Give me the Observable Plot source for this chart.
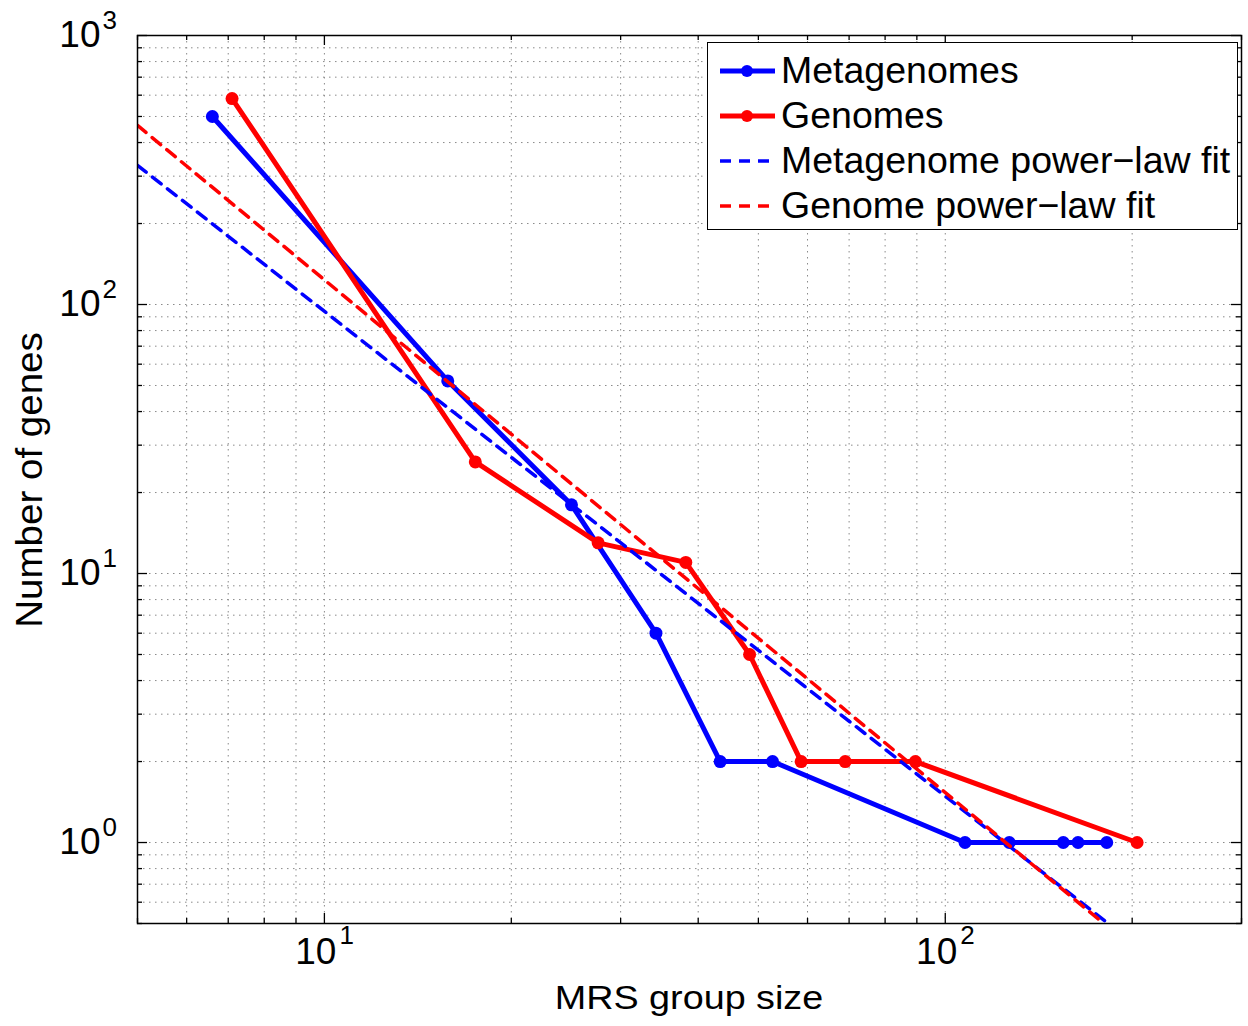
<!DOCTYPE html>
<html><head><meta charset="utf-8">
<script src="https://cdn.jsdelivr.net/npm/d3@7"></script>
<script src="https://cdn.jsdelivr.net/npm/@observablehq/plot@0.6"></script>
<style>
body{margin:0;background:#fff;}
#wrap{position:relative;width:1248px;height:1026px;font-family:"Liberation Sans",Arial,sans-serif;}
#legend{position:absolute;left:707px;top:42px;width:531px;height:188px;border:1.3px solid #000;background:#fff;box-sizing:border-box;}
.row{position:absolute;left:0;height:45px;display:flex;align-items:center;font-size:37.5px;color:#000;white-space:nowrap;}
.row svg{margin-left:10px;margin-right:6px;}
#xtitle{position:absolute;left:137px;width:1104px;top:978px;text-align:center;font-size:34px;transform:scaleX(1.11);transform-origin:50% 0;}
#ytitle{position:absolute;left:30px;top:480px;font-size:36px;transform:translate(-50%,-50%) rotate(-90deg) scaleX(1.07);white-space:nowrap;}
</style></head><body><div id="wrap"></div>
<script>
// ---- data ----
const metaX = [6.6, 15.8, 25, 34.2, 43.4, 52.7, 107.6, 126.8, 154.9, 163.6, 182];
const metaY = [500, 52, 18, 6, 2, 2, 1, 1, 1, 1, 1];
const genX = [7.1, 17.5, 27.6, 38.2, 48.4, 58.6, 69, 89.5, 203.7];
const genY = [583, 26, 13, 11, 5, 2, 2, 2, 1];
const metaFitX = [5, 183];
const metaFitY = [329, 0.5];
const genFitX = [5, 180];
const genFitY = [463, 0.5];
const seriesNames = ["Metagenomes", "Genomes", "Metagenome power\u2212law fit", "Genome power\u2212law fit"];
const xMajor = [10, 100];
const xExp = ["1", "2"];
const yMajor = [1, 10, 100, 1000];
const yExp = ["0", "1", "2", "3"];
const xMinor = [5,6,7,8,9,20,30,40,50,60,70,80,90,200,300];
const yMinor = [0.5,0.6,0.7,0.8,0.9,2,3,4,5,6,7,8,9,20,30,40,50,60,70,80,90,200,300,400,500,600,700,800,900];
const xTitle = "MRS group size";
const yTitle = "Number of genes";

const BLUE = "#0000ff", RED = "#ff0000";
const W = 1248, H = 1026, mL = 137, mR = 7, mT = 35, mB = 103;
const ph = H - mT - mB, pw = W - mL - mR;

const meta = metaX.map((x, i) => ({x, y: metaY[i]}));
const gen = genX.map((x, i) => ({x, y: genY[i]}));
const mfit = metaFitX.map((x, i) => ({x, y: metaFitY[i]}));
const gfit = genFitX.map((x, i) => ({x, y: genFitY[i]}));
const xAll = [...xMinor, ...xMajor];
const yAll = [...yMinor, ...yMajor];
const gridStyle = {stroke: "#8a8a8a", strokeDasharray: "1.5,4.5", strokeWidth: 1};
const font = "Liberation Sans, Arial, Helvetica, sans-serif";
const tk = {stroke: "#000", strokeWidth: 1.3};

const plot = Plot.plot({
  width: W, height: H, marginLeft: mL, marginRight: mR, marginTop: mT, marginBottom: mB,
  style: {fontFamily: font, background: "#fff", overflow: "visible"},
  x: {type: "log", domain: [5, 300], axis: null},
  y: {type: "log", domain: [0.5, 1000], axis: null},
  marks: [
    Plot.ruleX(xAll, {x: d => d, ...gridStyle}),
    Plot.ruleY(yAll, {y: d => d, ...gridStyle}),
    // inward ticks (box on)
    Plot.tickX(xMajor, {x: d => d, insetTop: ph - 10, ...tk}),
    Plot.tickX(xMajor, {x: d => d, insetBottom: ph - 10, ...tk}),
    Plot.tickX(xMinor, {x: d => d, insetTop: ph - 5, ...tk}),
    Plot.tickX(xMinor, {x: d => d, insetBottom: ph - 5, ...tk}),
    Plot.tickY(yMajor, {y: d => d, insetRight: pw - 10, ...tk}),
    Plot.tickY(yMajor, {y: d => d, insetLeft: pw - 10, ...tk}),
    Plot.tickY(yMinor, {y: d => d, insetRight: pw - 5, ...tk}),
    Plot.tickY(yMinor, {y: d => d, insetLeft: pw - 5, ...tk}),
    // data
    Plot.line(meta, {x: "x", y: "y", stroke: BLUE, strokeWidth: 5}),
    Plot.dot(meta, {x: "x", y: "y", fill: BLUE, r: 6.5}),
    Plot.line(gen, {x: "x", y: "y", stroke: RED, strokeWidth: 5}),
    Plot.dot(gen, {x: "x", y: "y", fill: RED, r: 6.5}),
    Plot.line(mfit, {x: "x", y: "y", stroke: BLUE, strokeWidth: 3.5, strokeDasharray: "11,8", clip: true}),
    Plot.line(gfit, {x: "x", y: "y", stroke: RED, strokeWidth: 3.5, strokeDasharray: "11,8", clip: true}),
    Plot.frame({stroke: "#000", strokeWidth: 1.5}),
    // tick labels 10^n
    Plot.text(xMajor, {x: d => d, text: () => "10", frameAnchor: "bottom", dy: 40, dx: 12, textAnchor: "end", fontSize: 37, fill: "#000"}),
    Plot.text(xMajor, {x: d => d, text: (d, i) => xExp[i], frameAnchor: "bottom", dy: 20, dx: 15, textAnchor: "start", fontSize: 26, fill: "#000"}),
    Plot.text(yMajor, {y: d => d, text: () => "10", frameAnchor: "left", dx: -37, textAnchor: "end", fontSize: 37, fill: "#000"}),
    Plot.text(yMajor, {y: d => d, text: (d, i) => yExp[i], frameAnchor: "left", dx: -35, dy: -15, textAnchor: "start", fontSize: 26, fill: "#000"})
  ]
});

const wrap = document.getElementById("wrap");
wrap.appendChild(plot);

// titles
const xt = document.createElement("div"); xt.id = "xtitle"; xt.textContent = xTitle; wrap.appendChild(xt);
const yt = document.createElement("div"); yt.id = "ytitle"; yt.textContent = yTitle; wrap.appendChild(yt);

// legend
const legend = document.createElement("div"); legend.id = "legend";
const styles = [
  {c: BLUE, dash: null, marker: true},
  {c: RED, dash: null, marker: true},
  {c: BLUE, dash: "11,8", marker: false},
  {c: RED, dash: "11,8", marker: false}
];
seriesNames.forEach((name, i) => {
  const s = styles[i];
  const row = document.createElement("div"); row.className = "row";
  row.style.top = (5 + i * 45) + "px";
  const sw = `<svg width="57" height="20"><line x1="2" y1="10" x2="57" y2="10" stroke="${s.c}" stroke-width="${s.marker ? 5 : 3.5}" ${s.dash ? `stroke-dasharray="${s.dash}"` : ""}/>${s.marker ? `<circle cx="29" cy="10" r="6" fill="${s.c}"/>` : ""}</svg>`;
  row.innerHTML = sw + `<span>${name}</span>`;
  legend.appendChild(row);
});
wrap.appendChild(legend);
</script></body></html>
